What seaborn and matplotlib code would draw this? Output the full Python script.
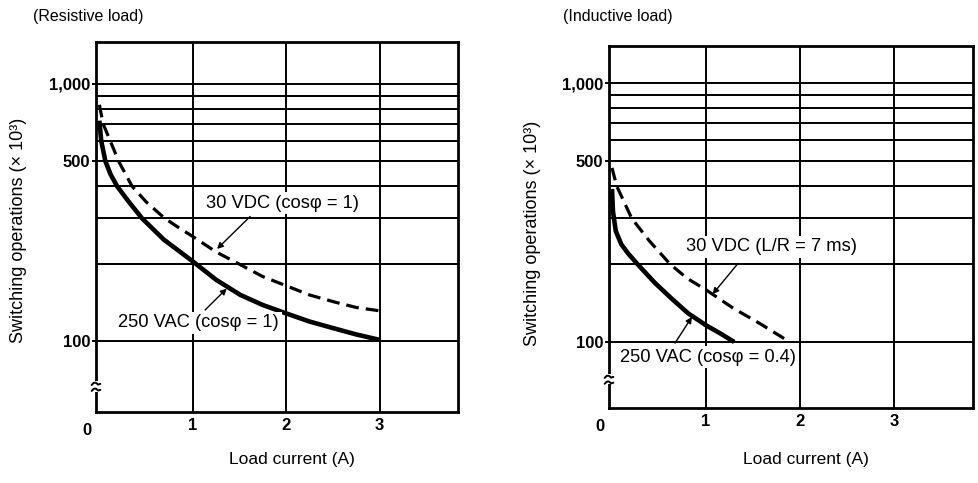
import matplotlib
matplotlib.use("Agg")
import matplotlib.pyplot as plt
from matplotlib.ticker import FixedLocator, FixedFormatter, NullFormatter
import seaborn as sns
import pandas as pd

# ---------------- data ----------------
res_ac_x = [0, 0.02, 0.065, 0.12, 0.19, 0.31, 0.457, 0.69, 1.0, 1.25, 1.51, 1.75, 2.0, 2.25, 2.51, 2.75, 3.0]
res_ac_y = [720, 600, 500, 445, 400, 350, 300, 248, 204, 173, 151, 138, 128, 119, 112, 106, 101]

res_dc_x = [0, 0.04, 0.117, 0.207, 0.35, 0.5, 0.7, 0.85, 1.0, 1.25, 1.51, 1.75, 2.0, 2.25, 2.51, 2.75, 3.0]
res_dc_y = [830, 700, 600, 500, 400, 348, 300, 276, 255, 222, 198, 178, 164, 151, 142, 135, 131]

ind_dc_x = [0, 0.05, 0.21, 0.4, 0.617, 0.8, 1.0, 1.29, 1.57, 1.89]
ind_dc_y = [470, 400, 300, 245, 200, 176, 159, 135, 118, 100]

ind_ac_x = [0, 0.01, 0.04, 0.1, 0.17, 0.27, 0.457, 0.635, 0.81, 1.0, 1.15, 1.3]
ind_ac_y = [390, 320, 268, 238, 220, 200, 169, 147, 129, 116, 108, 100]

y_major = [100, 500, 1000]
y_major_labels = ["100", "500", "1,000"]
y_minor = [200, 300, 400, 600, 700, 800, 900]
x_ticks = [1, 2, 3]
x_tick_labels = ["1", "2", "3"]

titles = ["(Resistive load)", "(Inductive load)"]
ac_labels = ["250 VAC (cos\u03c6 = 1)", "250 VAC (cos\u03c6 = 0.4)"]
dc_labels = ["30 VDC (cos\u03c6 = 1)", "30 VDC (L/R = 7 ms)"]
xlabel = "Load current (A)"
ylabel = "Switching operations (\u00d7 10\u00b3)"

# ---------------- style ----------------
sns.set_style("white")
plt.rcParams["font.family"] = ["Liberation Sans", "DejaVu Sans"]
plt.rcParams["text.color"] = "black"
plt.rcParams["axes.labelcolor"] = "black"
plt.rcParams["xtick.color"] = "black"
plt.rcParams["ytick.color"] = "black"

fig = plt.figure(figsize=(9.79, 4.83), dpi=100)
axL = fig.add_axes([96 / 979, 1 - 412 / 483, 362 / 979, 370 / 483])
axR = fig.add_axes([609 / 979, 1 - 408 / 483, 364 / 979, 362 / 483])

panels = [
    dict(ax=axL, ac=(res_ac_x, res_ac_y), dc=(res_dc_x, res_dc_y),
         ylim=(52.9, 1457), xlim=(-0.036, 3.84),
         dc_text=(1.957, 344), dc_arrow=((1.614, 305), (1.26, 228)),
         ac_text=(1.062, 117.5), ac_arrow=((1.132, 132), (1.364, 160)),
         ylab=(-0.19, 0.49), xlab=(0.54, -0.108), brk=(0.055, 0.083)),
    dict(ax=axR, ac=(ind_ac_x, ind_ac_y), dc=(ind_dc_x, ind_dc_y),
         ylim=(55.6, 1390), xlim=(-0.032, 3.84),
         dc_text=(1.70, 233), dc_arrow=((1.34, 201), (1.07, 153)),
         ac_text=(1.02, 87.5), ac_arrow=((0.67, 99), (0.85, 125)),
         ylab=(-0.188, 0.483), xlab=(0.54, -0.121), brk=(0.065, 0.093)),
]

for i, p in enumerate(panels):
    ax = p["ax"]
    ax.set_yscale("log")
    ax.set_ylim(*p["ylim"])
    ax.set_xlim(*p["xlim"])

    df_ac = pd.DataFrame({"x": p["ac"][0], "y": p["ac"][1]})
    df_dc = pd.DataFrame({"x": p["dc"][0], "y": p["dc"][1]})
    sns.lineplot(data=df_ac, x="x", y="y", ax=ax, color="black", lw=3.3,
                 solid_capstyle="butt", solid_joinstyle="round", zorder=5)
    sns.lineplot(data=df_dc, x="x", y="y", ax=ax, color="black", lw=2.3, zorder=5)
    ax.lines[-1].set_dashes((4, 2.2))

    ax.yaxis.set_major_locator(FixedLocator(y_major))
    ax.yaxis.set_major_formatter(FixedFormatter(y_major_labels))
    ax.yaxis.set_minor_locator(FixedLocator(y_minor))
    ax.yaxis.set_minor_formatter(NullFormatter())
    ax.set_xticks(x_ticks)
    ax.set_xticklabels(x_tick_labels)

    ax.tick_params(axis="y", which="major", length=3, width=1.4, pad=1,
                   labelsize=12, direction="out", left=True)
    ax.tick_params(axis="y", which="minor", length=0)
    ax.tick_params(axis="x", which="major", length=0, pad=4, labelsize=12)
    for lab in ax.get_yticklabels():
        lab.set_fontweight("bold")
    for lab in ax.get_xticklabels():
        lab.set_fontweight("bold")

    ax.grid(True, axis="y", which="both", color="black", lw=1.4)
    ax.grid(True, axis="x", which="major", color="black", lw=1.4)
    ax.set_axisbelow(True)
    for s in ax.spines.values():
        s.set_visible(True)
        s.set_color("black")
        s.set_linewidth(2.0)

    ax.set_xlabel(xlabel, fontsize=12.5)
    ax.xaxis.set_label_coords(*p["xlab"])
    ax.set_ylabel(ylabel, fontsize=13)
    ax.yaxis.set_label_coords(*p["ylab"])

    # "0" at the origin corner
    ax.text(-0.025, -0.03, "0", transform=ax.transAxes, ha="center", va="top",
            fontsize=12, fontweight="bold")

    # annotations
    ax.text(*p["dc_text"], dc_labels[i], ha="center", va="center", fontsize=13.2,
            zorder=6, bbox=dict(boxstyle="square,pad=0.15", fc="white", ec="none"))
    ax.text(*p["ac_text"], ac_labels[i], ha="center", va="center", fontsize=13.2,
            zorder=6, bbox=dict(boxstyle="square,pad=0.15", fc="white", ec="none"))
    for (start, tip) in (p["dc_arrow"], p["ac_arrow"]):
        ax.annotate("", xy=tip, xytext=start,
                    arrowprops=dict(arrowstyle="-|>", color="black", lw=1.0,
                                    mutation_scale=9, shrinkA=0, shrinkB=0),
                    zorder=7)

    # axis break marks on the left spine
    b0, b1 = p["brk"]
    ax.plot([0, 0], [b0, b1], transform=ax.transAxes, color="white", lw=4,
            clip_on=False, zorder=8, solid_capstyle="butt")
    for yb in (b0 + 0.006, b1 - 0.006):
        ax.plot([-0.012, -0.006, 0.0, 0.006, 0.012],
                [yb - 0.004, yb + 0.002, yb + 0.002, yb - 0.003, yb - 0.001],
                transform=ax.transAxes, color="black", lw=1.4, clip_on=False, zorder=9)

fig.text(33 / 979, 1 - 16 / 483, titles[0], ha="left", va="center", fontsize=11.5)
fig.text(563 / 979, 1 - 16 / 483, titles[1], ha="left", va="center", fontsize=11.5)

fig.savefig("out.png", dpi=100, facecolor="white")
